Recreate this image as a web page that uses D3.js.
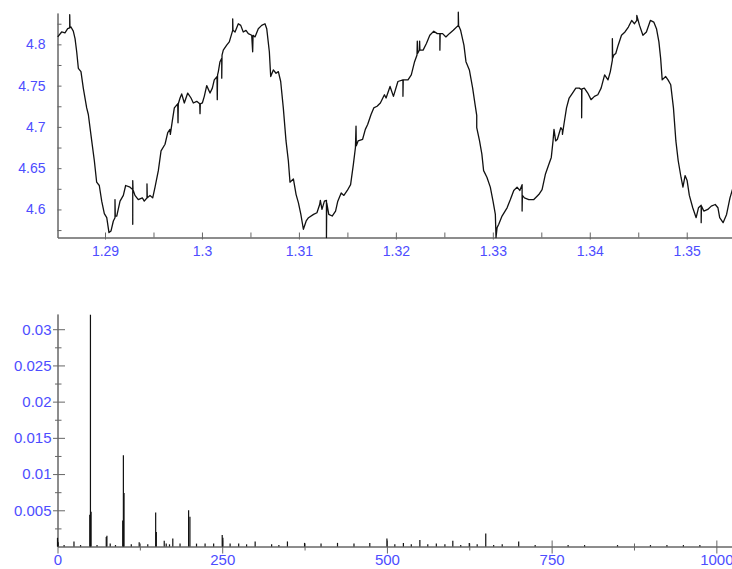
<!DOCTYPE html>
<html>
<head>
<meta charset="utf-8">
<script src="https://cdn.jsdelivr.net/npm/d3@7"></script>
<style>
    body { margin: 0; background: #fff; }
    svg text { font-family: "Liberation Sans", Arial, sans-serif; }
    .top text { font-size: 14px; }
    .bot text { font-size: 15px; }
</style>
</head>
<body>
<svg id="chart" width="732" height="569"></svg>
<script>
// time trace (s, V)
const times = [
    1.28512, 1.28553, 1.28587, 1.28615, 1.28636, 1.28636, 1.28639, 1.28649, 1.28673, 1.28691,
    1.28708, 1.28725, 1.28752, 1.28776, 1.28811, 1.28828, 1.28863, 1.28890, 1.28914, 1.28941,
    1.28966, 1.28993, 1.29018, 1.29041, 1.29062, 1.29086, 1.29103, 1.29103, 1.29106, 1.29121,
    1.29155, 1.29189, 1.29213, 1.29258, 1.29286, 1.29286, 1.29286, 1.29289, 1.29309, 1.29343,
    1.29385, 1.29405, 1.29433, 1.29433, 1.29436, 1.29464, 1.29492, 1.29516, 1.29550, 1.29578,
    1.29619, 1.29647, 1.29670, 1.29674, 1.29694, 1.29715, 1.29750, 1.29753, 1.29756, 1.29774,
    1.29791, 1.29818, 1.29853, 1.29887, 1.29911, 1.29946, 1.29977, 1.29980, 1.29983, 1.30004,
    1.30024, 1.30049, 1.30083, 1.30107, 1.30127, 1.30155, 1.30158, 1.30161, 1.30169, 1.30186,
    1.30204, 1.30204, 1.30207, 1.30220, 1.30255, 1.30282, 1.30317, 1.30317, 1.30320, 1.30341,
    1.30375, 1.30400, 1.30426, 1.30454, 1.30478, 1.30513, 1.30523, 1.30527, 1.30547, 1.30581,
    1.30616, 1.30650, 1.30668, 1.30695, 1.30709, 1.30736, 1.30764, 1.30788, 1.30812, 1.30839,
    1.30867, 1.30891, 1.30908, 1.30943, 1.30971, 1.30995, 1.31020, 1.31046, 1.31075, 1.31099,
    1.31151, 1.31186, 1.31214, 1.31221, 1.31238, 1.31263, 1.31284, 1.31284, 1.31287, 1.31308,
    1.31343, 1.31378, 1.31401, 1.31436, 1.31464, 1.31499, 1.31533, 1.31562, 1.31583, 1.31589,
    1.31592, 1.31610, 1.31657, 1.31685, 1.31709, 1.31744, 1.31772, 1.31806, 1.31840, 1.31882,
    1.31899, 1.31940, 1.31975, 1.32021, 1.32073, 1.32073, 1.32076, 1.32125, 1.32159, 1.32193,
    1.32218, 1.32221, 1.32224, 1.32242, 1.32245, 1.32248, 1.32281, 1.32315, 1.32350, 1.32391,
    1.32427, 1.32454, 1.32454, 1.32457, 1.32482, 1.32516, 1.32551, 1.32592, 1.32644, 1.32644,
    1.32647, 1.32668, 1.32702, 1.32723, 1.32758, 1.32792, 1.32817, 1.32834, 1.32834, 1.32863,
    1.32887, 1.32905, 1.32939, 1.32974, 1.33002, 1.33026, 1.33033, 1.33044, 1.33061, 1.33095,
    1.33147, 1.33181, 1.33216, 1.33250, 1.33278, 1.33302, 1.33302, 1.33305, 1.33326, 1.33371,
    1.33423, 1.33474, 1.33508, 1.33543, 1.33579, 1.33603, 1.33621, 1.33631, 1.33648, 1.33666,
    1.33701, 1.33718, 1.33718, 1.33736, 1.33760, 1.33787, 1.33822, 1.33856, 1.33892, 1.33916,
    1.33916, 1.33919, 1.33944, 1.33979, 1.34013, 1.34048, 1.34083, 1.34117, 1.34153, 1.34188,
    1.34212, 1.34233, 1.34233, 1.34236, 1.34248, 1.34268, 1.34293, 1.34327, 1.34363, 1.34398,
    1.34432, 1.34461, 1.34485, 1.34485, 1.34513, 1.34548, 1.34584, 1.34625, 1.34660, 1.34688,
    1.34713, 1.34731, 1.34747, 1.34783, 1.34807, 1.34835, 1.34863, 1.34888, 1.34912, 1.34941,
    1.34961, 1.34983, 1.35004, 1.35027, 1.35062, 1.35097, 1.35121, 1.35149, 1.35149, 1.35152,
    1.35176, 1.35217, 1.35253, 1.35294, 1.35322, 1.35340, 1.35375, 1.35411, 1.35446, 1.35471,
    1.35492, 1.35517
];
const volts = [
    4.809, 4.815, 4.814, 4.819, 4.820, 4.836, 4.820, 4.821, 4.816, 4.807,
    4.791, 4.771, 4.767, 4.747, 4.723, 4.715, 4.683, 4.659, 4.633, 4.629,
    4.610, 4.595, 4.590, 4.572, 4.574, 4.586, 4.590, 4.612, 4.592, 4.592,
    4.610, 4.617, 4.629, 4.627, 4.624, 4.582, 4.635, 4.624, 4.617, 4.612,
    4.614, 4.610, 4.614, 4.631, 4.614, 4.617, 4.614, 4.627, 4.647, 4.671,
    4.679, 4.693, 4.697, 4.691, 4.707, 4.723, 4.728, 4.705, 4.728, 4.735,
    4.740, 4.729, 4.741, 4.735, 4.729, 4.731, 4.728, 4.716, 4.728, 4.729,
    4.737, 4.750, 4.741, 4.747, 4.757, 4.761, 4.733, 4.763, 4.767, 4.779,
    4.783, 4.759, 4.787, 4.793, 4.799, 4.803, 4.817, 4.831, 4.817, 4.815,
    4.825, 4.823, 4.815, 4.817, 4.813, 4.811, 4.791, 4.811, 4.809, 4.819,
    4.823, 4.825, 4.819, 4.791, 4.761, 4.769, 4.765, 4.767, 4.755, 4.723,
    4.683, 4.659, 4.633, 4.637, 4.618, 4.608, 4.594, 4.576, 4.586, 4.590,
    4.594, 4.596, 4.606, 4.611, 4.600, 4.610, 4.611, 4.566, 4.608, 4.594,
    4.592, 4.598, 4.610, 4.620, 4.617, 4.623, 4.630, 4.655, 4.675, 4.701,
    4.677, 4.683, 4.685, 4.697, 4.703, 4.715, 4.723, 4.725, 4.729, 4.739,
    4.735, 4.749, 4.737, 4.755, 4.757, 4.737, 4.757, 4.757, 4.763, 4.779,
    4.787, 4.804, 4.789, 4.793, 4.804, 4.793, 4.793, 4.801, 4.811, 4.816,
    4.813, 4.813, 4.793, 4.813, 4.813, 4.809, 4.813, 4.817, 4.823, 4.839,
    4.823, 4.817, 4.799, 4.779, 4.769, 4.747, 4.727, 4.714, 4.699, 4.683,
    4.667, 4.647, 4.639, 4.627, 4.610, 4.594, 4.566, 4.578, 4.582, 4.592,
    4.602, 4.612, 4.623, 4.627, 4.623, 4.630, 4.598, 4.617, 4.614, 4.612,
    4.612, 4.618, 4.624, 4.643, 4.655, 4.663, 4.683, 4.697, 4.683, 4.685,
    4.699, 4.696, 4.691, 4.705, 4.723, 4.735, 4.741, 4.747, 4.747, 4.745,
    4.711, 4.746, 4.747, 4.741, 4.733, 4.737, 4.739, 4.747, 4.763, 4.757,
    4.767, 4.781, 4.807, 4.783, 4.787, 4.789, 4.799, 4.811, 4.815, 4.821,
    4.829, 4.825, 4.829, 4.835, 4.823, 4.811, 4.815, 4.829, 4.827, 4.819,
    4.803, 4.783, 4.757, 4.761, 4.757, 4.751, 4.723, 4.683, 4.659, 4.639,
    4.627, 4.641, 4.635, 4.617, 4.602, 4.590, 4.602, 4.605, 4.584, 4.604,
    4.598, 4.600, 4.604, 4.606, 4.602, 4.590, 4.584, 4.594, 4.614, 4.624,
    4.614, 4.617
];

// spectrum (Hz, amplitude)
const freqs = [
    0, 1, 10, 25, 35, 49, 50, 51, 60, 74, 75, 80, 88, 99, 100, 101, 112, 124, 137, 149,
    150, 162, 165, 170, 175, 186, 199, 201, 211, 224, 237, 250, 251, 262, 275, 287, 300,
    325, 336, 349, 375, 400, 425, 450, 474, 500, 512, 525, 537, 550, 562, 575, 588, 600,
    612, 625, 637, 650, 662, 675, 700, 725, 775, 800, 850, 900, 925, 950, 975
];
const amps = [
    0.0012, 0.0006, 0.0002, 0.0007, 0.0002, 0.0044, 0.0320, 0.0048, 0.0002, 0.0013,
    0.0015, 0.0004, 0.0002, 0.0036, 0.0126, 0.0074, 0.0003, 0.0006, 0.0003, 0.0047,
    0.0020, 0.0008, 0.0004, 0.0003, 0.0011, 0.0004, 0.0050, 0.0041, 0.0004, 0.0004,
    0.0004, 0.0016, 0.0012, 0.0004, 0.0004, 0.0003, 0.0007, 0.0003, 0.0002, 0.0007,
    0.0005, 0.0004, 0.0005, 0.0004, 0.0005, 0.0011, 0.0003, 0.0005, 0.0003, 0.0009,
    0.0003, 0.0004, 0.0003, 0.0008, 0.0002, 0.0005, 0.0003, 0.0018, 0.0002, 0.0003,
    0.0007, 0.0002, 0.0002, 0.0002, 0.0002, 0.0002, 0.0002, 0.0002, 0.0002
];

// ticks
const timeTicks = [1.29, 1.30, 1.31, 1.32, 1.33, 1.34, 1.35];
const timeLabels = ["1.29", "1.3", "1.31", "1.32", "1.33", "1.34", "1.35"];
const timeMinor = [1.295, 1.305, 1.315, 1.325, 1.335, 1.345];
const voltTicks = [4.6, 4.65, 4.7, 4.75, 4.8];
const voltLabels = ["4.6", "4.65", "4.7", "4.75", "4.8"];
const voltMinor = [4.575, 4.625, 4.675, 4.725, 4.775, 4.825];
const freqTicks = [0, 250, 500, 750, 1000];
const freqLabels = ["0", "250", "500", "750", "1000"];
const freqMinor = [125, 375, 625, 875];
const ampTicks = [0.005, 0.01, 0.015, 0.02, 0.025, 0.03];
const ampLabels = ["0.005", "0.01", "0.015", "0.02", "0.025", "0.03"];
const ampMinor = [0.0025, 0.0075, 0.0125, 0.0175, 0.0225, 0.0275];

const labelColor = "#4d4dff";
const axisColor = "#666";

let svg = d3.select("#chart");

let scT = d3.scaleLinear().domain([1.2851, 1.3547]).range([57.5, 732.3]);
let scV = d3.scaleLinear().domain([4.566, 4.838]).range([237.5, 13]);
let scF = d3.scaleLinear().domain([0, 1023]).range([57.5, 731.5]);
let scA = d3.scaleLinear().domain([0, 0.0321]).range([546.5, 314]);

// draws an axis, then moves the tick lines to span [a, b] (local coords)
let styleAxis = function (g, vertical, a, b) {
    g.attr("color", axisColor);
    g.select(".domain").attr("stroke", axisColor);
    let ln = g.selectAll(".tick line");
    if (vertical) ln.attr("x1", a).attr("x2", b);
    else ln.attr("y1", a).attr("y2", b);
    g.selectAll(".tick text").attr("fill", labelColor);
};

// ---- top: time trace ----
let gTop = svg.append("g").attr("class", "top");

gTop.append("g")
    .attr("transform", "translate(0," + scV.range()[0] + ")")
    .call(d3.axisBottom(scT).tickValues(timeMinor).tickFormat("").tickSizeOuter(0))
    .call((g) => styleAxis(g, false, -5, 0));
gTop.append("g")
    .attr("transform", "translate(0," + scV.range()[0] + ")")
    .call(d3.axisBottom(scT).tickValues(timeTicks).tickFormat((d, i) => timeLabels[i])
        .tickSizeOuter(0).tickSizeInner(0).tickPadding(9))
    .call((g) => styleAxis(g, false, -5, 2));

gTop.append("g")
    .attr("transform", "translate(" + scT.range()[0] + ",0)")
    .call(d3.axisLeft(scV).tickValues(voltMinor).tickFormat("").tickSizeOuter(0))
    .call((g) => styleAxis(g, true, 0, 4));
gTop.append("g")
    .attr("transform", "translate(" + scT.range()[0] + ",0)")
    .call(d3.axisLeft(scV).tickValues(voltTicks).tickFormat((d, i) => voltLabels[i])
        .tickSizeOuter(0).tickSizeInner(0).tickPadding(12))
    .call((g) => styleAxis(g, true, 0, 4));

let trace = d3.line()
    .x((d, i) => scT(times[i]))
    .y((d, i) => scV(volts[i]));

gTop.append("path")
    .attr("fill", "none")
    .attr("stroke", "#111")
    .attr("stroke-width", 1.3)
    .attr("stroke-linejoin", "round")
    .attr("d", trace(times));

// ---- bottom: spectrum ----
let gBot = svg.append("g").attr("class", "bot");

gBot.append("g")
    .attr("transform", "translate(0," + scA.range()[0] + ")")
    .call(d3.axisBottom(scF).tickValues(freqMinor).tickFormat("").tickSizeOuter(0))
    .call((g) => styleAxis(g, false, -3, 4));
gBot.append("g")
    .attr("transform", "translate(0," + scA.range()[0] + ")")
    .call(d3.axisBottom(scF).tickValues(freqTicks).tickFormat((d, i) => freqLabels[i])
        .tickSizeOuter(0).tickSizeInner(0).tickPadding(8))
    .call((g) => styleAxis(g, false, -6, 7));

gBot.append("g")
    .attr("transform", "translate(" + scF.range()[0] + ",0)")
    .call(d3.axisLeft(scA).tickValues(ampMinor).tickFormat("").tickSizeOuter(0))
    .call((g) => styleAxis(g, true, -2.5, 4));
gBot.append("g")
    .attr("transform", "translate(" + scF.range()[0] + ",0)")
    .call(d3.axisLeft(scA).tickValues(ampTicks).tickFormat((d, i) => ampLabels[i])
        .tickSizeOuter(0).tickSizeInner(0).tickPadding(6))
    .call((g) => styleAxis(g, true, -4.5, 7.5));

gBot.selectAll("line.stem")
    .data(freqs)
    .enter()
    .append("line")
    .attr("class", "stem")
    .attr("x1", (d) => scF(d))
    .attr("x2", (d) => scF(d))
    .attr("y1", scA(0))
    .attr("y2", (d, i) => scA(amps[i]))
    .attr("stroke", "#111")
    .attr("stroke-width", 1.2);
</script>
</body>
</html>
